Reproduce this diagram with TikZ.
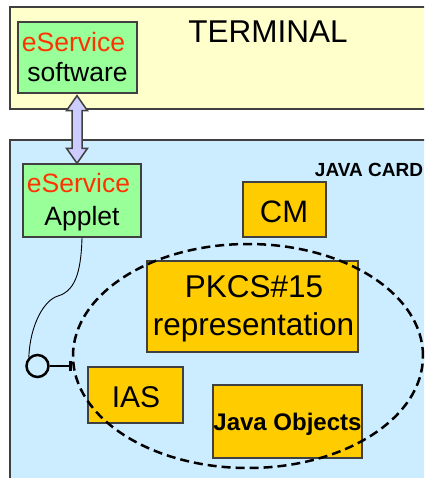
\documentclass[tikz,border=0pt]{standalone}
\usepackage{fontspec}
\setmainfont{Liberation Sans}
\usetikzlibrary{arrows.meta,calc,shapes.geometric}
\definecolor{termfill}{HTML}{FFFFCC}
\definecolor{cardfill}{HTML}{CCECFF}
\definecolor{greenfill}{HTML}{99FF99}
\definecolor{orangefill}{HTML}{FFCC00}
\definecolor{redtext}{HTML}{FF3300}
\definecolor{arrowfill}{HTML}{CCCCFF}
\definecolor{edge}{HTML}{404040}
\newcommand{\fs}[1]{\fontsize{#1}{#1}\selectfont}
\begin{document}
\begin{tikzpicture}[x=1pt,y=-1pt,
  panel/.style={draw=edge, line width=1.6pt, inner sep=0pt, anchor=north west},
  greenbox/.style={draw=edge, fill=greenfill, line width=1.4pt, inner sep=0pt},
  orangebox/.style={draw=edge, fill=orangefill, line width=1.4pt, inner sep=0pt},
  lbl/.style={anchor=base, inner sep=0pt},
  dblarrow/.style={draw=edge, fill=arrowfill, line width=1.5pt, line join=miter},
  group/.style={ellipse, draw=black, line width=2.5pt, dash pattern=on 9pt off 5pt, inner sep=0pt},
  wire/.style={draw=black, line width=0.9pt}]
\useasboundingbox (0,0) rectangle (424,478);
\clip (0,0) rectangle (424,478);

% panels
\node[panel, fill=termfill, minimum width=430, minimum height=102] (term) at (9,6) {};
\node[panel, fill=cardfill, minimum width=430, minimum height=350] (card) at (9,139) {};
\node[lbl, font=\fs{31.5}] (termlbl) at (268,43) {TERMINAL};
\node[lbl, font=\bfseries\fs{19}] (cardlbl) at (369,177) {JAVA CARD};

% green boxes
\node[greenbox, minimum width=119, minimum height=71] (sw) at (77.5,57.5) {};
\node[lbl, font=\fs{26.5}, text=redtext] (swa) at (73.5,52) {eService};
\node[lbl, font=\fs{26.5}] (swb) at (77.5,82) {software};

\node[greenbox, minimum width=118, minimum height=73] (ap) at (82,200.5) {};
\node[lbl, font=\fs{26.5}, text=redtext] (apa) at (78.5,193) {eService};
\node[lbl, font=\fs{26.5}] (apb) at (82,225) {Applet};

% double arrow
\coordinate (at) at ($(sw.south)+(-0.5,2)$);
\coordinate (ab) at (at |- ap.north);
\draw[dblarrow] (at) -- ($(at)+(10.5,15)$) -- ($(at)+(5,15)$) -- ($(ab)+(5,-15)$)
  -- ($(ab)+(10.5,-15)$) -- (ab) -- ($(ab)+(-10.5,-15)$) -- ($(ab)+(-5,-15)$)
  -- ($(at)+(-5,15)$) -- ($(at)+(-10.5,15)$) -- cycle;

% orange boxes
\node[orangebox, minimum width=83, minimum height=55] (cm) at (284.5,209.5) {};
\node[lbl, font=\fs{31}] (cmt) at (284,222) {CM};

\node[orangebox, minimum width=211, minimum height=91] (pk) at (252.5,306.5) {};
\node[lbl, font=\fs{31.5}] (pka) at (254,297) {PKCS\#15};
\node[lbl, font=\fs{31.5}] (pkb) at (253.5,335) {representation};

\node[orangebox, minimum width=95, minimum height=56] (ias) at (135.5,395) {};
\node[lbl, font=\fs{30}] (iast) at (136,407) {IAS};

\node[orangebox, minimum width=149, minimum height=73] (jo) at (287.5,421.5) {};
\node[lbl, font=\bfseries\fs{24}] (jot) at (287.5,430) {Java Objects};

% dashed group
\node[group, minimum width=350, minimum height=224] (grp) at (248,356) {};

% lollipop
\node[circle, draw=black, line width=2.5pt, minimum size=22, inner sep=0pt] (port) at (37.5,366) {};
\draw[line width=2.5pt, -{Bar[width=10pt]}] (port.east) -- (port.east -| grp.west);
\draw[wire] (ap.south) .. controls (81,275) and (74,291) .. (58,296)
  .. controls (44,300) and (30,325) .. (port.north west);
\end{tikzpicture}
\end{document}
